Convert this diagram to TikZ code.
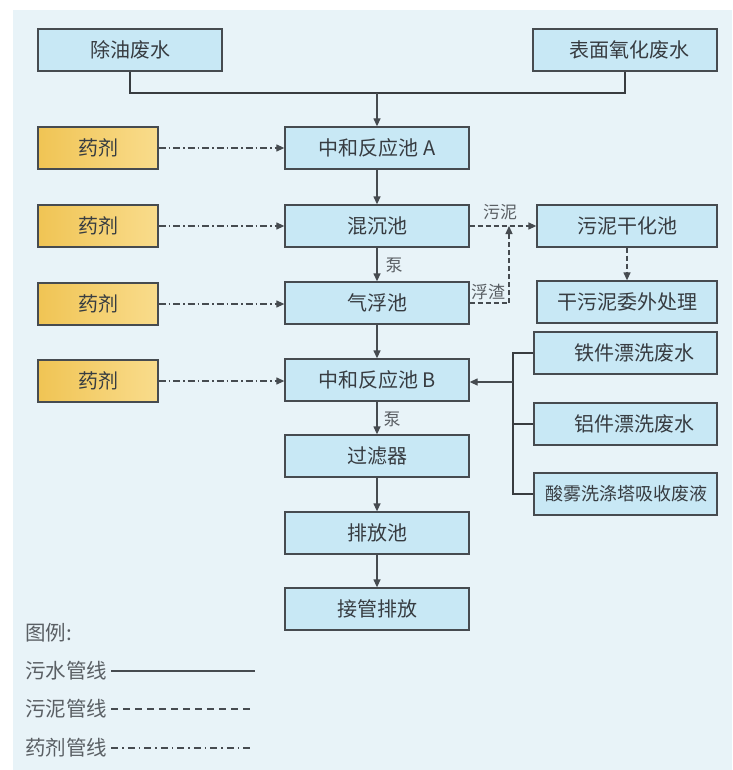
\documentclass[tikz,border=0pt]{standalone}
\usepackage{fontspec}
\newfontfamily\cjk{Noto Sans CJK SC}
\usetikzlibrary{arrows.meta}
\definecolor{bg}{RGB}{232,243,248}
\definecolor{boxblue}{RGB}{200,232,245}
\definecolor{boxline}{RGB}{70,75,80}
\definecolor{drugA}{RGB}{240,196,84}
\definecolor{drugB}{RGB}{249,220,140}
\definecolor{txt}{RGB}{55,60,65}
\definecolor{lbl}{RGB}{90,95,100}
\begin{document}
\begin{tikzpicture}[x=1pt,y=-1pt,
 box/.style={draw=boxline,line width=1.3pt,minimum height=42pt,inner sep=0pt,font=\cjk\fontsize{20}{20}\selectfont,text=txt},
 bluebox/.style={box,fill=boxblue,minimum width=184pt},
 drug/.style={box,left color=drugA,right color=drugB,minimum width=120pt},
 flow/.style={draw=boxline,line width=1.3pt,-{Triangle[length=8pt,width=7pt]}},
 pipe/.style={draw=boxline!80!black,line width=2.2pt},
 sludge/.style={draw=boxline,line width=1.3pt,dash pattern=on 5pt off 3pt},
 sludgearrow/.style={sludge,-{Triangle[length=8pt,width=7pt]}},
 chem/.style={draw=boxline,line width=1.2pt,dash pattern=on 7pt off 3pt on 1.5pt off 3pt,-{Triangle[length=8pt,width=7pt]}},
 tag/.style={font=\cjk\fontsize{17}{17}\selectfont,text=lbl,inner sep=0pt},
 legend/.style={font=\cjk\fontsize{20.5}{20.5}\selectfont,text=lbl,inner sep=0pt,anchor=west},
]
\useasboundingbox (0,0) rectangle (732,770);
\fill[white] (0,0) rectangle (732,770);
\fill[bg] (13,10) rectangle (732,770);

% sources
\node[bluebox] (oil) at (130,50) {除油废水};
\node[bluebox] (surf) at (625,50) {\hspace*{8pt}表面氧化废水};

% main column
\node[bluebox] (nA) at (377,148) {中和反应池 A};
\node[bluebox] (hc) at (377,226) {混沉池};
\node[bluebox] (qf) at (377,303) {气浮池};
\node[bluebox] (nB) at (377,380) {中和反应池 B};
\node[bluebox] (gl) at (377,456) {过滤器};
\node[bluebox] (pf) at (377,533) {排放池};
\node[bluebox] (jg) at (377,609) {接管排放};

% chemicals
\node[drug] (d1) at (98,148) {药剂};
\node[drug] (d2) at (98,226) {药剂};
\node[drug] (d3) at (98,304) {药剂};
\node[drug] (d4) at (98,381) {药剂};

% right column
\node[bluebox,minimum width=180pt] (sl) at (627,226) {污泥干化池};
\node[bluebox,minimum width=180pt] (gw) at (627,302) {干污泥委外处理};
\node[bluebox,minimum width=183pt] (tj) at (625.5,353) {\hspace*{18pt}铁件漂洗废水};
\node[bluebox,minimum width=183pt] (lj) at (625.5,424) {\hspace*{18pt}铝件漂洗废水};
\node[bluebox,minimum width=183pt,font=\cjk\fontsize{18}{18}\selectfont] (sw) at (625.5,494) {\hspace*{2pt}酸雾洗涤塔吸收废液};

% merge of sources
\coordinate (mj) at (377,93);
\draw[pipe] (oil.south) |- (mj) -| (surf.south);
\draw[flow] (mj) -- (nA.north);

% main flow
\draw[flow] (nA) -- (hc);
\draw[flow] (hc) -- (qf);
\draw[flow] (qf) -- (nB);
\draw[flow] (nB) -- (gl);
\draw[flow] (gl) -- (pf);
\draw[flow] (pf) -- (jg);
\node[tag] (p1) at (394,265) {泵};
\node[tag] (p2) at (392,419) {泵};

% chemical feeds
\draw[chem] (d1) -- (nA);
\draw[chem] (d2) -- (hc);
\draw[chem] (d3.east) -- (d3.east -| qf.west);
\draw[chem] (d4.east) -- (d4.east -| nB.west);

% sludge lines
\draw[sludgearrow] (hc) -- (sl);
\node[tag] (sn) at (500,212) {污泥};
\coordinate (fz) at (509,303);
\draw[sludge] (qf.east |- fz) -- (fz);
\draw[sludgearrow] (fz) -- (fz |- sl.west);
\node[tag] (fzl) at (488,292) {浮渣};
\draw[sludgearrow] (sl) -- (gw);

% rinse waters bus
\coordinate (bt) at (513,353);
\coordinate (bb) at (513,494);
\draw[pipe] (tj.west) -- (bt) -- (bb) -- (sw.west);
\draw[pipe] (lj.west) -- (lj.west -| bt);
\draw[flow] (513,382) -- (nB.east |- 0,382);

% legend
\node[legend] (lg0) at (25,633) {图例:};
\node[legend] (lg1) at (25,671) {污水管线};
\node[legend] (lg2) at (25,709) {污泥管线};
\node[legend] (lg3) at (25,748) {药剂管线};
\draw[draw=boxline,line width=1.6pt] (lg1.east) ++(4,0) -- (255,671);
\draw[draw=boxline,line width=1.3pt,dash pattern=on 7pt off 5pt] (lg2.east) ++(4,0) -- (255,709);
\draw[draw=boxline,line width=1.3pt,dash pattern=on 7pt off 4pt on 1.5pt off 4pt] (lg3.east) ++(4,0) -- (250,748);
\end{tikzpicture}
\end{document}
